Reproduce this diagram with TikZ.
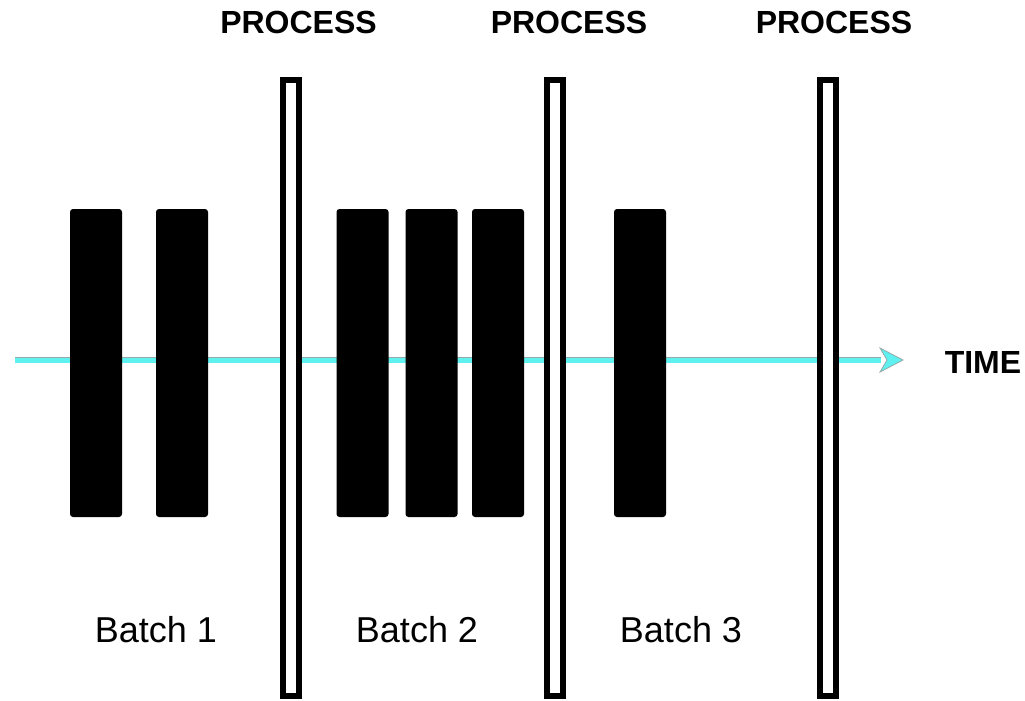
\documentclass[tikz,border=0pt]{standalone}
\usepackage{fontspec}
\setmainfont{Liberation Sans}
\definecolor{timecyan}{RGB}{95,240,240}
\definecolor{edgegray}{RGB}{150,170,170}
\tikzset{
  batchbox/.style={fill=black, draw=none, rounded corners=3pt, minimum width=52pt, minimum height=308pt, inner sep=0pt},
  procbar/.style={draw=black, fill=white, line width=6pt, minimum width=16pt, minimum height=616pt, inner sep=0pt},
  proclabel/.style={font=\fontsize{32}{32}\selectfont\bfseries, inner sep=0pt},
  batchlabel/.style={font=\fontsize{36}{36}\selectfont, inner sep=0pt},
}
\begin{document}
\begin{tikzpicture}[x=1pt,y=-1pt]
\useasboundingbox (0,0) rectangle (1025,701);
% time line
\coordinate (tstart) at (15,360);
\coordinate (tend) at (881,360);
\coordinate (ttip) at (903,360);
\draw[line width=0.8pt, draw=edgegray, double=timecyan, double distance=5pt] (tstart) -- (tend);
\fill[timecyan, draw=edgegray, line width=0.8pt] (ttip) -- (880,348) -- (887,360) -- (880,372) -- cycle;
% batch items
\node[batchbox] (b1a) at (96,363) {};
\node[batchbox] (b1b) at (182,363) {};
\node[batchbox] (b2a) at (362.5,363) {};
\node[batchbox] (b2b) at (431.5,363) {};
\node[batchbox] (b2c) at (498,363) {};
\node[batchbox] (b3a) at (640,363) {};
% process bars
\node[procbar] (p1) at (291,388) {};
\node[procbar] (p2) at (555,388) {};
\node[procbar] (p3) at (828,388) {};
% labels
\node[proclabel] (l1) at (298.5,22) {PROCESS};
\node[proclabel] (l2) at (569,22) {PROCESS};
\node[proclabel] (l3) at (834,22) {PROCESS};
\node[proclabel] (time) at (983,362) {TIME};
\node[batchlabel] (bl1) at (156,630) {Batch 1};
\node[batchlabel] (bl2) at (417,630) {Batch 2};
\node[batchlabel] (bl3) at (681,630) {Batch 3};
\end{tikzpicture}
\end{document}
